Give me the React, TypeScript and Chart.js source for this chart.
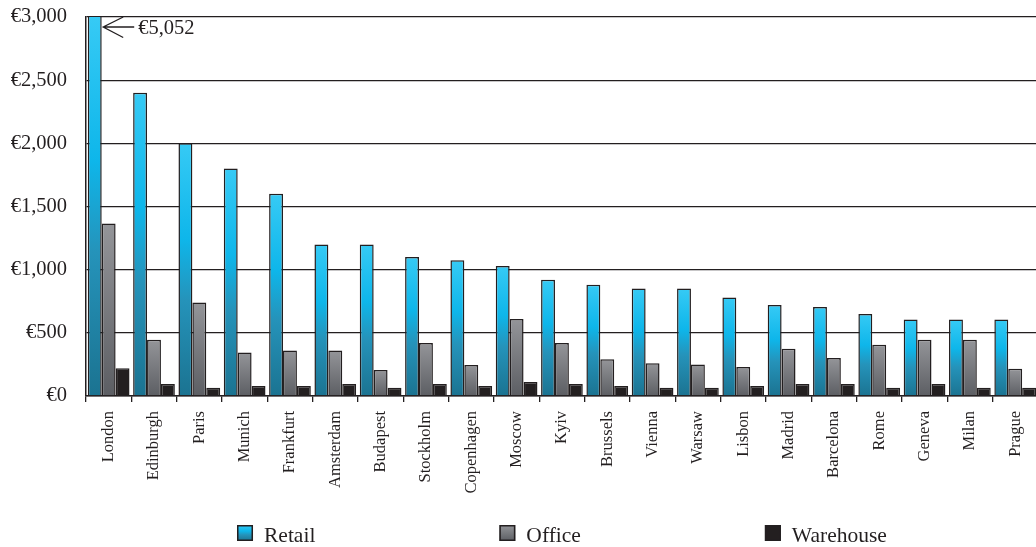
import React, { useEffect, useRef } from 'react';
import { Chart, registerables } from 'chart.js';

Chart.register(...registerables);

// ---------- data ----------
const cities = [
  'London', 'Edinburgh', 'Paris', 'Munich', 'Frankfurt', 'Amsterdam', 'Budapest',
  'Stockholm', 'Copenhagen', 'Moscow', 'Kyiv', 'Brussels', 'Vienna', 'Warsaw',
  'Lisbon', 'Madrid', 'Barcelona', 'Rome', 'Geneva', 'Milan', 'Prague',
];
const retail = [5052, 2400, 2000, 1800, 1600, 1200, 1200, 1100, 1075, 1030, 920, 880, 850, 850, 780, 720, 705, 650, 605, 605, 605];
const office = [1365, 445, 740, 345, 360, 360, 205, 420, 245, 610, 420, 290, 260, 250, 230, 375, 300, 405, 445, 445, 215];
const warehouse = [220, 95, 65, 80, 80, 95, 65, 95, 80, 110, 95, 80, 65, 65, 80, 95, 95, 65, 95, 65, 65];
const seriesNames = ['Retail', 'Office', 'Warehouse'];
const yTickValues = [0, 500, 1000, 1500, 2000, 2500, 3000];

// ---------- style ----------
const FONT = '"Liberation Serif", "Times New Roman", Times, serif';
const INK = '#231f20';
type Stops = [number, string][];
const RETAIL_STOPS: Stops = [[0, '#36caf5'], [0.38, '#0eb6ea'], [0.62, '#2593ba'], [1, '#1b7391']];
const OFFICE_STOPS: Stops = [[0, '#949599'], [1, '#5c5e63']];
const WAREHOUSE_STOPS: Stops = [[0, '#231f20'], [1, '#231f20']];
const ALL_STOPS = [RETAIL_STOPS, OFFICE_STOPS, WAREHOUSE_STOPS];

const euro = (v: number) => '€' + Number(v).toLocaleString('en-US');

function barGradient(stops: Stops) {
  return (c: any) => {
    const chart = c.chart;
    const ys = chart.scales && chart.scales.y;
    if (!chart.chartArea || !ys || c.type !== 'data') return stops[0][1];
    const v = Math.min(Math.max(Number(c.raw), ys.min), ys.max);
    const top = ys.getPixelForValue(v);
    const bottom = ys.getPixelForValue(0);
    if (!(bottom - top > 1)) return stops[stops.length - 1][1];
    const g = chart.ctx.createLinearGradient(0, top, 0, bottom);
    stops.forEach(([o, col]) => g.addColorStop(o, col));
    return g;
  };
}

const overlayPlugin = {
  id: 'overlay',
  afterDatasetsDraw(chart: any) {
    // arrow + label for the clipped London retail bar
    const meta = chart.getDatasetMeta(0);
    const bar = meta.data[0];
    if (!bar) return;
    const ys = chart.scales.y;
    if (retail[0] <= ys.max) return;
    const ctx = chart.ctx;
    const tipX = bar.x + bar.width / 2 + 1.5;
    const tipY = chart.chartArea.top + 10;
    ctx.save();
    ctx.strokeStyle = INK;
    ctx.lineWidth = 1.3;
    ctx.beginPath();
    ctx.moveTo(tipX + 20, tipY - 10);
    ctx.lineTo(tipX, tipY);
    ctx.lineTo(tipX + 20, tipY + 10.5);
    ctx.moveTo(tipX, tipY);
    ctx.lineTo(tipX + 31, tipY);
    ctx.stroke();
    ctx.fillStyle = INK;
    ctx.font = `20.5px ${FONT}`;
    ctx.textAlign = 'left';
    ctx.textBaseline = 'alphabetic';
    ctx.fillText(euro(retail[0]), tipX + 35, tipY + 7);
    ctx.restore();
  },
  afterDraw(chart: any) {
    // legend
    const ctx = chart.ctx;
    const area = chart.chartArea;
    const box = 16;
    const gapText = 11;
    const gapItem = 184;
    ctx.save();
    ctx.font = `21.5px ${FONT}`;
    const widths = seriesNames.map((n) => box + gapText + ctx.measureText(n).width);
    const total = widths.reduce((a, b) => a + b, 0) + gapItem * (seriesNames.length - 1);
    let x = (area.left + area.right) / 2 - total / 2;
    const boxTop = chart.height - 22;
    const baseline = chart.height - 5;
    seriesNames.forEach((name, i) => {
      const g = ctx.createLinearGradient(0, boxTop, 0, boxTop + box);
      ALL_STOPS[i].forEach(([o, col]) => g.addColorStop(o, col));
      ctx.fillStyle = g;
      ctx.fillRect(x, boxTop, box, box);
      ctx.strokeStyle = INK;
      ctx.lineWidth = 1.5;
      ctx.strokeRect(x + 0.75, boxTop + 0.75, box - 1.5, box - 1.5);
      ctx.fillStyle = INK;
      ctx.textAlign = 'left';
      ctx.textBaseline = 'alphabetic';
      ctx.fillText(name, x + box + gapText, baseline);
      x += widths[i] + gapItem;
    });
    ctx.restore();
  },
};

export default function App() {
  const canvasRef = useRef<HTMLCanvasElement | null>(null);

  useEffect(() => {
    const canvas = canvasRef.current;
    if (!canvas) return;
    const datasetsRaw = [retail, office, warehouse];
    const chart = new Chart(canvas, {
      type: 'bar',
      data: {
        labels: cities,
        datasets: datasetsRaw.map((d, i) => ({
          label: seriesNames[i],
          data: d,
          backgroundColor: barGradient(ALL_STOPS[i]) as any,
          borderColor: INK,
          borderWidth: 1.5,
          categoryPercentage: 0.92,
          barPercentage: 1,
        })),
      },
      options: {
        responsive: false,
        animation: false,
        devicePixelRatio: 1,
        layout: { padding: { top: 17, bottom: 40, left: 0, right: 0 } },
        plugins: {
          legend: { display: false },
          tooltip: { enabled: false },
        },
        scales: {
          x: {
            type: 'category',
            offset: true,
            grid: {
              offset: true,
              drawOnChartArea: false,
              drawTicks: true,
              tickLength: 6,
              color: INK,
              lineWidth: 1.3,
            },
            border: { display: true, color: INK, width: 1.5 },
            ticks: {
              autoSkip: false,
              minRotation: 90,
              maxRotation: 90,
              padding: 9,
              color: INK,
              font: { family: FONT, size: 16.5 },
            },
            afterFit: (s: any) => {
              s.height = 111;
            },
          },
          y: {
            min: 0,
            max: 3000,
            grid: { color: INK, lineWidth: 1.3, drawTicks: false },
            border: { display: true, color: INK, width: 1.5 },
            ticks: {
              padding: 19,
              color: INK,
              font: { family: FONT, size: 20.5 },
              callback: (v: any) => euro(Number(v)),
            },
            afterBuildTicks: (s: any) => {
              s.ticks = yTickValues.map((v) => ({ value: v }));
            },
            afterFit: (s: any) => {
              s.width = 86;
              s.paddingTop = 0;
              s.paddingBottom = 0;
            },
          },
        },
      },
      plugins: [overlayPlugin],
    });
    return () => chart.destroy();
  }, []);

  return (
    <div
      style={{
        position: 'absolute',
        left: 0,
        top: 0,
        width: 1036,
        height: 547,
        overflow: 'hidden',
        background: '#fff',
      }}
    >
      <canvas ref={canvasRef} width={1044} height={547} style={{ display: 'block' }} />
    </div>
  );
}
